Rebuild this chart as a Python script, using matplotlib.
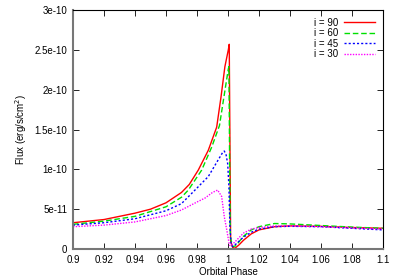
import matplotlib
matplotlib.use("Agg")
import matplotlib.pyplot as plt

plt.rcParams['font.family'] = ['Liberation Sans', 'DejaVu Sans']

# phase / flux (1e-10 erg/s/cm^2)
ph_90 = [0.9, 0.92, 0.94, 0.95, 0.96, 0.97, 0.975, 0.9808, 0.9873, 0.9927, 0.9955, 0.998, 1.0002,
         1.0008, 1.0013, 1.0017, 1.003, 1.0045, 1.007, 1.01, 1.015, 1.02, 1.03, 1.04, 1.06, 1.08, 1.1]
fl_90 = [0.33, 0.37, 0.45, 0.50, 0.58, 0.71, 0.81, 0.99, 1.24, 1.53, 1.91, 2.29, 2.50,
         2.57, 1.2, 0.1, 0.02, 0.01, 0.05, 0.11, 0.19, 0.24, 0.28, 0.29, 0.285, 0.27, 0.26]

ph_60 = [0.9, 0.92, 0.94, 0.96, 0.97, 0.9744, 0.983, 0.9895, 0.9945, 0.9981, 1.0002,
         1.0006, 1.001, 1.0015, 1.003, 1.005, 1.01, 1.015, 1.02, 1.03, 1.04, 1.06, 1.08, 1.1]
fl_60 = [0.31, 0.35, 0.41, 0.53, 0.65, 0.74, 0.99, 1.28, 1.55, 2.0, 2.26,
         2.29, 1.2, 0.15, 0.03, 0.04, 0.16, 0.24, 0.28, 0.32, 0.315, 0.295, 0.275, 0.26]

ph_45 = [0.9, 0.92, 0.94, 0.96, 0.97, 0.9787, 0.9873, 0.9937, 0.9965, 0.9976, 0.9988, 0.9998,
         1.0006, 1.0012, 1.002, 1.003, 1.005, 1.01, 1.015, 1.02, 1.03, 1.04, 1.06, 1.08, 1.1]
fl_45 = [0.30, 0.33, 0.38, 0.48, 0.57, 0.74, 0.91, 1.12, 1.21, 1.23, 1.18, 1.07,
         0.78, 0.30, 0.06, 0.03, 0.06, 0.15, 0.21, 0.25, 0.28, 0.285, 0.28, 0.26, 0.24]

ph_30 = [0.9, 0.92, 0.94, 0.96, 0.97, 0.98, 0.9852, 0.99, 0.9933, 0.9959, 0.9976, 0.9992,
         1.0009, 1.002, 1.005, 1.01, 1.015, 1.02, 1.03, 1.04, 1.06, 1.08, 1.1]
fl_30 = [0.28, 0.30, 0.34, 0.42, 0.49, 0.59, 0.64, 0.71, 0.74, 0.66, 0.405, 0.24,
         0.05, 0.04, 0.10, 0.20, 0.25, 0.27, 0.29, 0.29, 0.28, 0.265, 0.25]

xticks = [0.9, 0.92, 0.94, 0.96, 0.98, 1.0, 1.02, 1.04, 1.06, 1.08, 1.1]
xlabels = ['0.9', '0.92', '0.94', '0.96', '0.98', '1', '1.02', '1.04', '1.06', '1.08', '1.1']
yticks = [0, 0.5e-10, 1e-10, 1.5e-10, 2e-10, 2.5e-10, 3e-10]
ylabels = ['0', '5e-11', '1e-10', '1.5e-10', '2e-10', '2.5e-10', '3e-10']

fig = plt.figure(figsize=(4, 2.79), dpi=100)
ax = fig.add_axes([0.1825, 0.1075, 0.775, 0.8565])

s = 1e-10
ax.plot(ph_90, [v * s for v in fl_90], color='#ff0000', lw=1.0, label='i = 90')
ax.plot(ph_60, [v * s for v in fl_60], color='#00e000', lw=1.0, ls=(0, (4, 2)), label='i = 60')
ax.plot(ph_45, [v * s for v in fl_45], color='#0000ff', lw=1.0, ls=(0, (1.5, 1.5)), label='i = 45')
ax.plot(ph_30, [v * s for v in fl_30], color='#ff00ff', lw=1.0, ls=(0, (1, 1)), label='i = 30')

ax.set_xlim(0.9, 1.1)
ax.set_ylim(0, 3e-10)
ax.set_xticks(xticks)
ax.set_xticklabels(xlabels)
ax.set_yticks(yticks)
ax.set_yticklabels(ylabels)
ax.tick_params(direction='in', top=True, right=True, labelsize=7, length=4, width=0.6, pad=4)
for side in ['left', 'bottom']:
    ax.spines[side].set_color('#777777')
    ax.spines[side].set_linewidth(1.5)
for side in ['top', 'right']:
    ax.spines[side].set_linewidth(0.8)

ax.set_xlabel('Orbital Phase', fontsize=7, labelpad=2)
ax.set_ylabel('Flux (erg/s/cm$^2$)', fontsize=7, labelpad=4)

ax.legend(loc='upper right', frameon=False, fontsize=7, markerfirst=False,
          handlelength=3.2, handletextpad=0.6, labelspacing=0.05,
          borderaxespad=0.4)

fig.savefig('out.png', dpi=100)
